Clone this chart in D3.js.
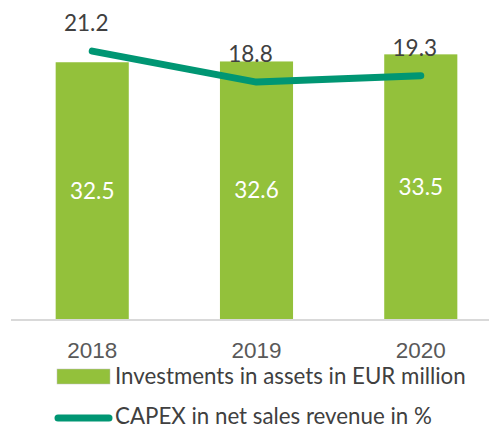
<!doctype html>
<html>
  <head>
    <script src="https://cdn.jsdelivr.net/npm/d3@7/dist/d3.min.js"></script>
    <style>
      body, html {
        margin: 0;
        background: #fff;
      }
      svg {
        display: block;
        font-family: Lato, "Open Sans", sans-serif;
      }
      .tick text {
        fill: #595959;
        font-size: 22.5px;
      }
      text.lbl {
        fill: #404040;
        font-size: 22.5px;
      }
      text.inner {
        fill: #fff;
        font-size: 22.5px;
      }
      text.leg {
        fill: #404040;
        font-size: 22.3px;
      }
    </style>
  </head>
  <body>
    <svg width="489" height="428"></svg>
    <script>

      var years = ["2018", "2019", "2020"];
      var investments = [32.5, 32.6, 33.5];
      var capex = [21.2, 18.8, 19.3];
      var legendNames = ["Investments in assets in EUR million", "CAPEX in net sales revenue in %"];

      var barColor = "#93c13b";
      var lineColor = "#009673";

      var svg = d3.select("svg");

      var x = d3.scaleBand().domain(years).range([10, 503]).paddingInner(0.555).paddingOuter(0.278);
      var y = d3.scaleLinear().domain([0, 40]).range([319, 3]);
      var y2 = d3.scaleLinear().domain([0, 25]).range([325, 2]);

      // axis baseline
      svg.append("line")
        .attr("x1", 11).attr("x2", 489)
        .attr("y1", 320).attr("y2", 320)
        .attr("stroke", "#d9d9d9").attr("stroke-width", 2);

      svg.selectAll("rect.bar")
        .data(investments)
        .enter().append("rect")
        .attr("class", "bar")
        .attr("x", (d, i) => x(years[i]))
        .attr("width", x.bandwidth())
        .attr("y", d => y(d))
        .attr("height", d => y(0) - y(d))
        .attr("fill", barColor);

      svg.selectAll("text.inner")
        .data(investments)
        .enter().append("text")
        .attr("class", "inner")
        .attr("text-anchor", "middle")
        .attr("x", (d, i) => x(years[i]) + x.bandwidth() / 2)
        .attr("y", d => (y(d) + y(0)) / 2 + 8)
        .text(d => d.toFixed(1));

      var line = d3.line()
        .x((d, i) => x(years[i]) + x.bandwidth() / 2)
        .y(d => y2(d));

      svg.append("path")
        .datum(capex)
        .attr("d", line)
        .attr("fill", "none")
        .attr("stroke", lineColor)
        .attr("stroke-width", 7)
        .attr("stroke-linecap", "round")
        .attr("stroke-linejoin", "round");

      svg.selectAll("text.lbl")
        .data(capex)
        .enter().append("text")
        .attr("class", "lbl")
        .attr("text-anchor", "middle")
        .attr("x", (d, i) => x(years[i]) + x.bandwidth() / 2 - 6)
        .attr("y", d => y2(d) - 20)
        .text(d => d.toFixed(1));

      var xAxis = svg.append("g")
        .attr("transform", "translate(0,320)")
        .call(d3.axisBottom(x).tickSize(0).tickPadding(22));
      xAxis.select(".domain").remove();
      xAxis.selectAll("text").attr("font-family", null).attr("font-size", null);

      // legend
      var leg = svg.append("g");
      leg.append("rect")
        .attr("x", 57).attr("y", 369)
        .attr("width", 53).attr("height", 15)
        .attr("fill", barColor)
        .attr("stroke", "#bfbfbf").attr("stroke-width", 0.5);
      leg.append("text").attr("class", "leg")
        .attr("x", 115).attr("y", 384)
        .text(legendNames[0]);
      leg.append("line")
        .attr("x1", 58).attr("x2", 109)
        .attr("y1", 418).attr("y2", 418)
        .attr("stroke", lineColor).attr("stroke-width", 7)
        .attr("stroke-linecap", "round");
      leg.append("text").attr("class", "leg")
        .attr("x", 115).attr("y", 424)
        .text(legendNames[1]);

    </script>
  </body>
</html>
